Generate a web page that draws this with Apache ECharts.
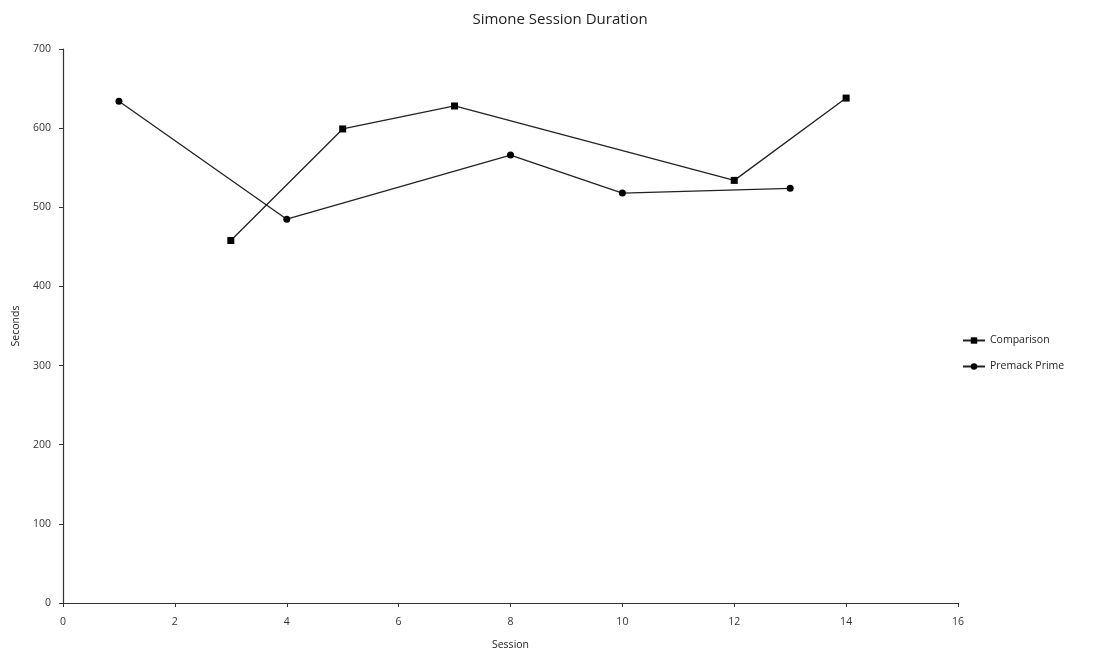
<!DOCTYPE html>
<html>
<head>
<meta charset="utf-8">
<script src="https://cdn.jsdelivr.net/npm/echarts@6/dist/echarts.min.js"></script>
<style>html,body{margin:0;padding:0;background:#fff;}#c{width:1110px;height:656px;}</style>
</head>
<body>
<div id="c"></div>
<script>
const comparisonSessions = [3, 5, 7, 12, 14];
const comparisonValues = [458, 599, 628, 534, 638];
const premackSessions = [1, 4, 8, 10, 13];
const premackValues = [634, 485, 566, 518, 524];
const seriesNames = ['Comparison', 'Premack Prime'];

const font = 'Open Sans';
const chart = echarts.init(document.getElementById('c'));
const axisCommon = {
  axisLine: {show: true, lineStyle: {color: '#333', width: 1.2}},
  axisTick: {show: true, length: 4, lineStyle: {color: '#333'}},
  splitLine: {show: false}
};
chart.setOption({
  animation: false,
  backgroundColor: '#fff',
  title: {text: 'Simone Session Duration', left: 555, top: 7, textAlign: 'center',
    textStyle: {fontFamily: font, fontSize: 15, fontWeight: 'normal', color: '#222'}},
  grid: {left: 63, right: 152, top: 49, bottom: 53},
  legend: {orient: 'vertical', left: 957, top: 330, itemGap: 15, itemWidth: 22, itemHeight: 8,
    textStyle: {fontFamily: font, fontSize: 10.5, color: '#222'},
    data: seriesNames},
  xAxis: Object.assign({type: 'value', min: 0, max: 16, interval: 2, name: 'Session',
    nameLocation: 'middle', nameGap: 37, nameTextStyle: {fontFamily: font, fontSize: 10.5, color: '#222'},
    axisLabel: {color: '#333', fontFamily: font, fontSize: 10.5, margin: 14}}, axisCommon),
  yAxis: Object.assign({type: 'value', min: 0, max: 700, interval: 100, name: 'Seconds',
    nameLocation: 'middle', nameGap: 41, nameTextStyle: {fontFamily: font, fontSize: 10.5, color: '#222'},
    axisLabel: {color: '#333', fontFamily: font, fontSize: 10.5, margin: 12}}, axisCommon),
  series: [
    {name: seriesNames[0], type: 'line', data: comparisonSessions.map((s, i) => [s, comparisonValues[i]]),
      symbol: 'rect', symbolSize: 7, lineStyle: {color: '#222', width: 1.3}, itemStyle: {color: '#000'}},
    {name: seriesNames[1], type: 'line', data: premackSessions.map((s, i) => [s, premackValues[i]]),
      symbol: 'circle', symbolSize: 7, lineStyle: {color: '#222', width: 1.3}, itemStyle: {color: '#000'}}
  ]
});
</script>
</body>
</html>
